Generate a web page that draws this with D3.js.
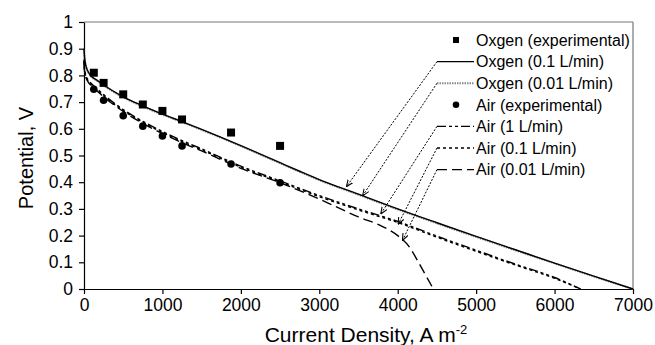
<!DOCTYPE html>
<html>
<head>
<meta charset="utf-8">
<script src="https://cdn.jsdelivr.net/npm/d3@7"></script>
<style>
  body { margin: 0; background: #fff; }
  text { font-family: "Liberation Sans", Arial, Helvetica, sans-serif; fill: #000; }
</style>
</head>
<body>
<div id="chart"></div>
<script>
// experimental points
const expX = [125, 250, 500, 750, 1000, 1250, 1875, 2500];
const oxygenExp = [0.81, 0.772, 0.729, 0.691, 0.667, 0.635, 0.586, 0.536];
const airExp = [0.748, 0.707, 0.649, 0.61, 0.573, 0.536, 0.468, 0.398];

// model curves
const oxygenX = [0, 5, 15, 30, 60, 100, 150, 250, 500, 750, 1000, 1250, 1500, 1750, 2000, 2250, 2500, 2750, 3000, 3500, 4000, 4500, 5000, 5500, 6000, 6500, 7000];
const oxygen01 = [0.90, 0.875, 0.85, 0.83, 0.81, 0.795, 0.785, 0.764, 0.72, 0.686, 0.655, 0.627, 0.598, 0.568, 0.537, 0.505, 0.473, 0.441, 0.41, 0.355, 0.3, 0.248, 0.197, 0.147, 0.097, 0.048, 0.0];
const oxygen001 = [0.895, 0.872, 0.848, 0.828, 0.808, 0.793, 0.783, 0.762, 0.718, 0.684, 0.653, 0.625, 0.596, 0.566, 0.535, 0.503, 0.471, 0.439, 0.408, 0.353, 0.298, 0.246, 0.195, 0.145, 0.096, 0.047, 0.0];

const airX = [0, 5, 15, 30, 60, 100, 250, 500, 750, 1000, 1250, 1500, 2000, 2500, 3000, 3500, 4000, 4500, 5000, 5500, 6000, 6330];
const air1 = [0.86, 0.83, 0.81, 0.795, 0.78, 0.768, 0.728, 0.672, 0.628, 0.59, 0.556, 0.525, 0.46, 0.405, 0.35, 0.30, 0.253, 0.198, 0.145, 0.093, 0.043, 0.0];
const air01 = [0.855, 0.826, 0.806, 0.791, 0.776, 0.764, 0.724, 0.668, 0.624, 0.586, 0.552, 0.521, 0.456, 0.401, 0.346, 0.296, 0.249, 0.194, 0.141, 0.09, 0.04, 0.0];

const air001X = [0, 5, 15, 30, 60, 100, 250, 500, 750, 1000, 1250, 1500, 2000, 2500, 3000, 3500, 3800, 4000, 4150, 4250, 4350, 4455];
const air001 = [0.85, 0.822, 0.802, 0.788, 0.772, 0.76, 0.72, 0.665, 0.62, 0.582, 0.548, 0.517, 0.452, 0.398, 0.337, 0.27, 0.235, 0.2, 0.157, 0.108, 0.055, 0.0];

const xTicks = [0, 1000, 2000, 3000, 4000, 5000, 6000, 7000];
const yTicks = [0, 0.1, 0.2, 0.3, 0.4, 0.5, 0.6, 0.7, 0.8, 0.9, 1];

// leader arrows: where each one points, in data units
const arrowTargets = [
  { row: 1, x: 3350, y: 0.385 },
  { row: 2, x: 3557, y: 0.351 },
  { row: 4, x: 3788, y: 0.283 },
  { row: 5, x: 4008, y: 0.244 },
  { row: 6, x: 4064, y: 0.184 }
];

const margin = { top: 22, right: 22, bottom: 56, left: 84 };
const width = 655 - margin.left - margin.right;
const height = 345 - margin.top - margin.bottom;

const svg = d3.select('#chart')
  .append('svg')
  .attr('width', 655)
  .attr('height', 345)
  .append('g')
  .attr('transform', `translate(${margin.left}, ${margin.top})`);

const x = d3.scaleLinear().domain([0, 7000]).range([0, width]);
const y = d3.scaleLinear().domain([0, 1]).range([height, 0]);

// frame (top and right in grey)
svg.append('line')
  .attr('x1', 0).attr('x2', width).attr('y1', 0).attr('y2', 0)
  .attr('stroke', '#777').attr('stroke-width', 1.2);
svg.append('line')
  .attr('x1', width).attr('x2', width).attr('y1', 0).attr('y2', height)
  .attr('stroke', '#777').attr('stroke-width', 1.2);

// X Axis
const xAxis = svg.append('g')
  .attr('transform', `translate(0, ${height})`)
  .call(d3.axisBottom(x).tickValues(xTicks).tickSize(5).tickPadding(5).tickSizeOuter(0)
    .tickFormat(d3.format('d')));

// Y Axis
const yAxis = svg.append('g')
  .call(d3.axisLeft(y).tickValues(yTicks).tickSize(5).tickPadding(6).tickSizeOuter(0)
    .tickFormat(d => d === 0 || d === 1 ? d3.format('d')(d) : d3.format('.1f')(d)));

[xAxis, yAxis].forEach(a => {
  a.select('.domain').attr('stroke', '#000').attr('stroke-width', 1.2);
  a.selectAll('.tick line').attr('stroke', '#000').attr('stroke-width', 1.2);
  a.selectAll('.tick text')
    .style('font-family', '"Liberation Sans", Arial, sans-serif')
    .style('font-size', '17.5px')
    .attr('fill', '#000');
});

const line = d3.line()
  .x(d => x(d[0]))
  .y(d => y(d[1]))
  .curve(d3.curveMonotoneX);

const curves = [
  { xs: oxygenX, ys: oxygen001, color: '#888', dash: '1.5,1', w: 2 },
  { xs: oxygenX, ys: oxygen01, color: '#000', dash: null, w: 1.4 },
  { xs: airX, ys: air1, color: '#000', dash: '9,3,3,3,3,3', w: 1.4 },
  { xs: airX, ys: air01, color: '#000', dash: '3,3', w: 1.4 },
  { xs: air001X, ys: air001, color: '#000', dash: '10,5', w: 1.4 }
];

curves.forEach(c => {
  svg.append('path')
    .datum(c.xs.map((v, i) => [v, c.ys[i]]))
    .attr('fill', 'none')
    .attr('stroke', c.color)
    .attr('stroke-width', c.w)
    .attr('stroke-dasharray', c.dash)
    .attr('d', line);
});

// experimental markers
svg.selectAll('rect.oxy')
  .data(expX.map((v, i) => [v, oxygenExp[i]]))
  .enter()
  .append('rect')
  .attr('class', 'oxy')
  .attr('x', d => x(d[0]) - 4)
  .attr('y', d => y(d[1]) - 4)
  .attr('width', 8)
  .attr('height', 8)
  .attr('fill', '#000');

svg.selectAll('circle.air')
  .data(expX.map((v, i) => [v, airExp[i]]))
  .enter()
  .append('circle')
  .attr('class', 'air')
  .attr('cx', d => x(d[0]))
  .attr('cy', d => y(d[1]))
  .attr('r', 3.8)
  .attr('fill', '#000');

// Legend
const legendItems = [
  { label: 'Oxgen (experimental)', type: 'square' },
  { label: 'Oxgen (0.1 L/min)', type: 'line', color: '#000', dash: null, w: 1.4 },
  { label: 'Oxgen (0.01 L/min)', type: 'line', color: '#888', dash: '1.5,1', w: 2 },
  { label: 'Air (experimental)', type: 'circle' },
  { label: 'Air (1 L/min)', type: 'line', color: '#000', dash: '9,3,3,3,3,3', w: 1.4 },
  { label: 'Air (0.1 L/min)', type: 'line', color: '#000', dash: '3,3', w: 1.4 },
  { label: 'Air (0.01 L/min)', type: 'line', color: '#000', dash: '10,5', w: 1.4 }
];

const legX = 353;      // line sample start, relative to plot
const legText = 392;
const rowY = i => 18 + i * 21.6;

const defs = d3.select('svg').append('defs');
defs.append('marker')
  .attr('id', 'arrow')
  .attr('viewBox', '0 0 10 10')
  .attr('refX', 9).attr('refY', 5)
  .attr('markerWidth', 7).attr('markerHeight', 7)
  .attr('orient', 'auto')
  .append('path')
  .attr('d', 'M0,1 L10,5 L0,9')
  .attr('fill', 'none')
  .attr('stroke', '#000')
  .attr('stroke-width', 1.5);

// leader arrows
arrowTargets.forEach(a => {
  svg.append('line')
    .attr('x1', legX).attr('y1', rowY(a.row))
    .attr('x2', x(a.x)).attr('y2', y(a.y))
    .attr('stroke', '#000')
    .attr('stroke-width', 1)
    .attr('stroke-dasharray', '2,1.5')
    .attr('marker-end', 'url(#arrow)');
});

const leg = svg.append('g');
legendItems.forEach((d, i) => {
  const cy = rowY(i);
  if (d.type === 'square') {
    leg.append('rect').attr('x', 369).attr('y', cy - 3).attr('width', 6).attr('height', 6).attr('fill', '#000');
  } else if (d.type === 'circle') {
    leg.append('circle').attr('cx', 372).attr('cy', cy).attr('r', 3.3).attr('fill', '#000');
  } else {
    leg.append('line')
      .attr('x1', legX).attr('x2', legText - 2)
      .attr('y1', cy).attr('y2', cy)
      .attr('stroke', d.color)
      .attr('stroke-width', d.w)
      .attr('stroke-dasharray', d.dash);
  }
  leg.append('text')
    .attr('x', legText)
    .attr('y', cy)
    .attr('dy', '0.36em')
    .style('font-size', '16px')
    .text(d.label);
});

// X-axis label
const xl = svg.append('text')
  .attr('x', 282)
  .attr('y', height + 53)
  .attr('text-anchor', 'middle')
  .style('font-size', '21px');
xl.append('tspan').text('Current Density, A m');
xl.append('tspan').attr('dy', -8).style('font-size', '13px').text('-2');

// Y-axis label
svg.append('text')
  .attr('transform', 'rotate(-90)')
  .attr('x', -(158 - margin.top))
  .attr('y', -51)
  .attr('text-anchor', 'middle')
  .style('font-size', '20px')
  .text('Potential, V');
</script>
</body>
</html>
